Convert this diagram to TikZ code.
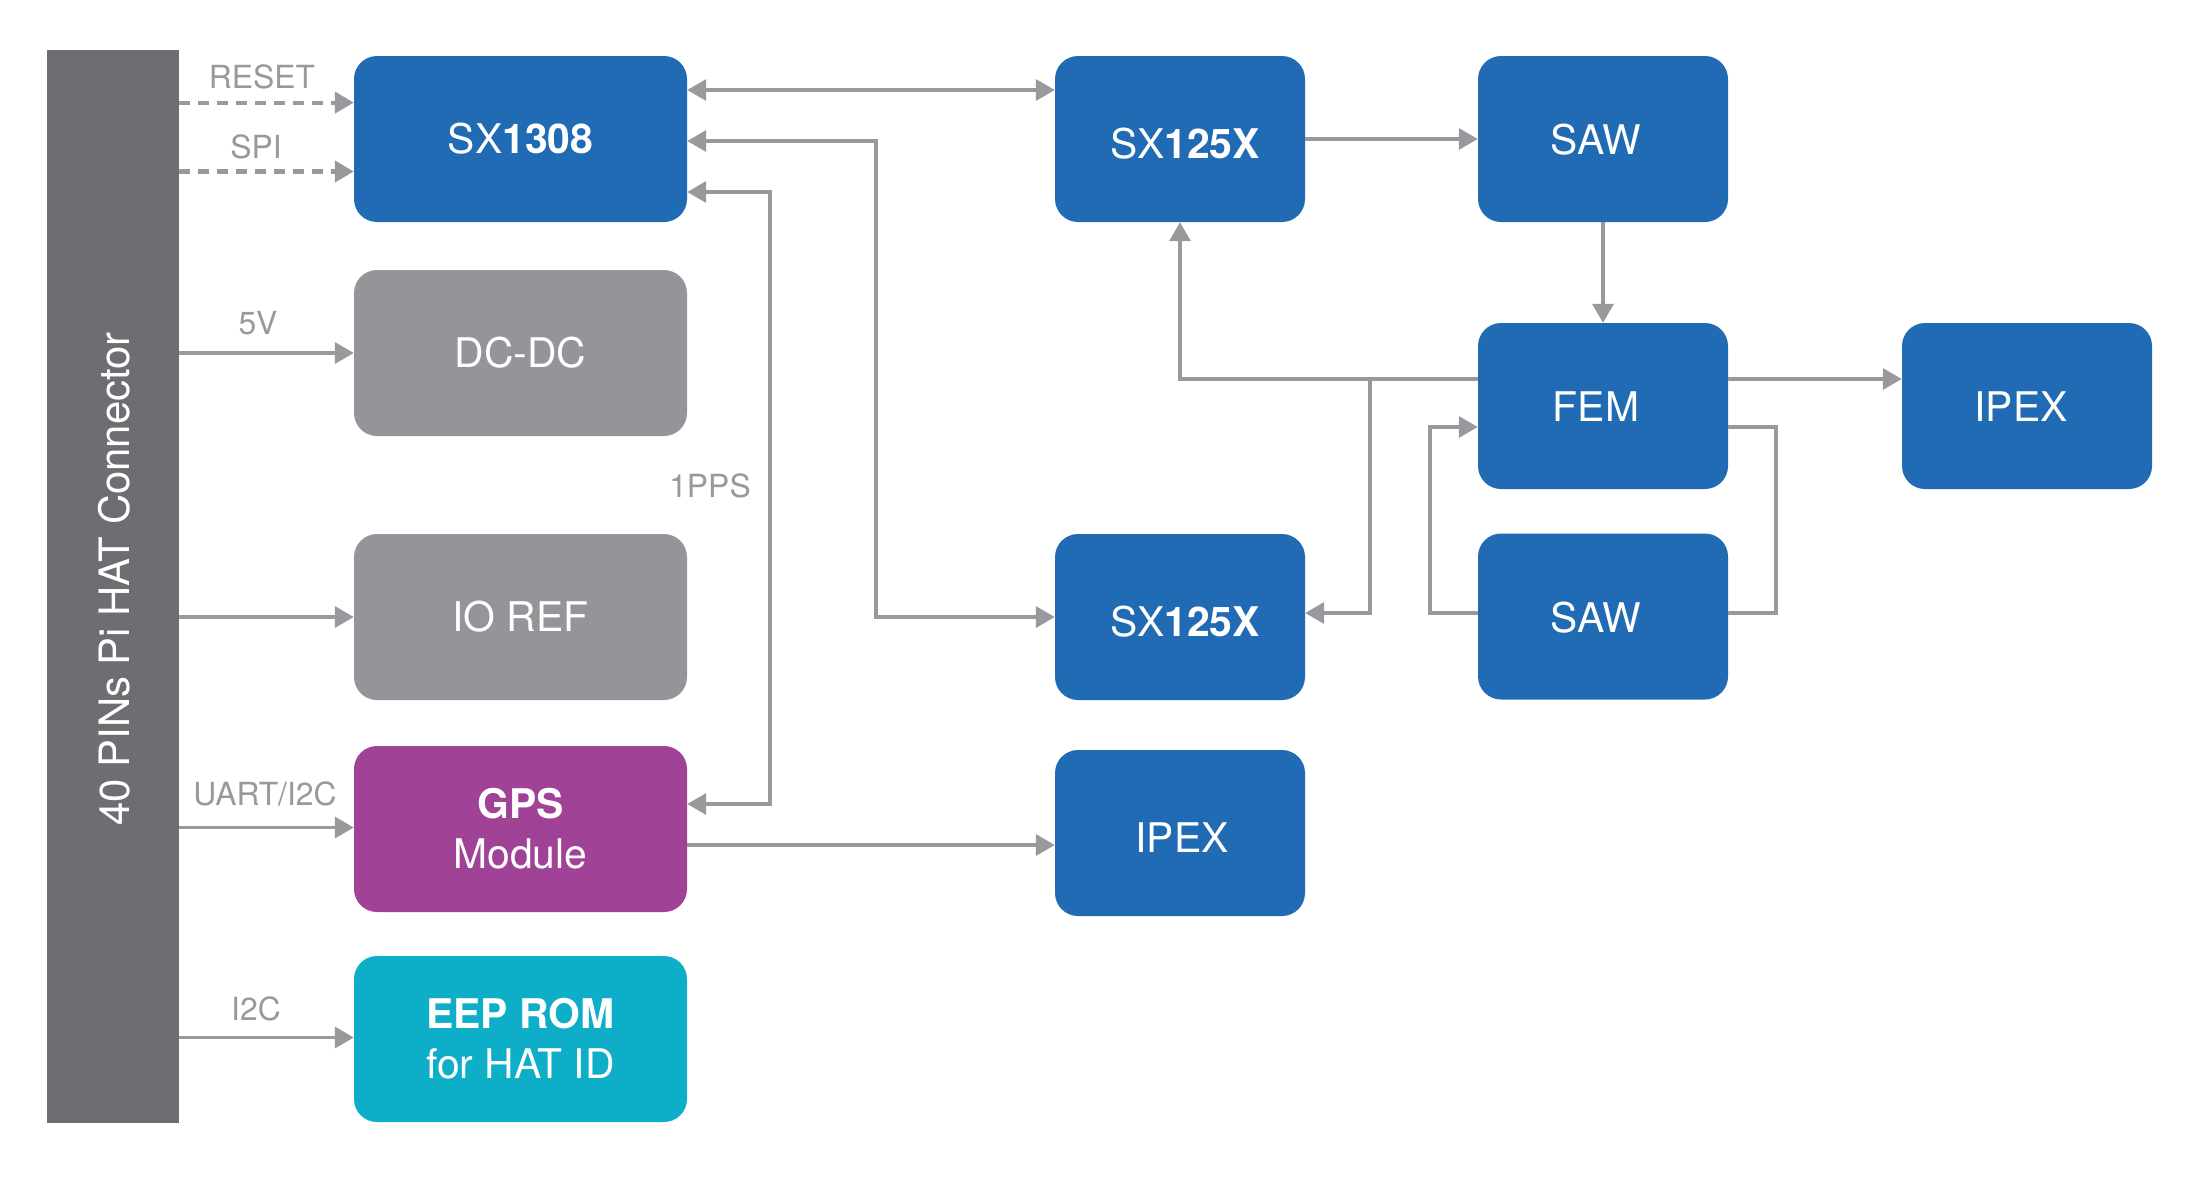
\documentclass[tikz,border=0pt]{standalone}
\usepackage{fontspec}
\setmainfont{TeX Gyre Heros}
\usetikzlibrary{arrows.meta}
\definecolor{cblue}{RGB}{33,107,180}
\definecolor{cgray}{RGB}{147,149,152}
\definecolor{cpurple}{RGB}{160,66,149}
\definecolor{ccyan}{RGB}{14,174,201}
\definecolor{cbar}{RGB}{109,110,113}
\definecolor{cline}{RGB}{152,153,156}
\newcommand{\tshift}[3]{\hspace*{#1}\raisebox{#2}[\height][\depth]{#3}}
\tikzset{
  box/.style={rectangle, rounded corners=23bp, inner sep=0pt, text=white,
    font=\fontsize{41}{50}\selectfont, align=center,
    minimum width=250bp, minimum height=166bp},
  widebox/.style={box, minimum width=333bp},
  conn/.style={draw=cline, line width=3.5bp,
    arrows={-Triangle[length=19bp,width=21bp]}},
  conn2/.style={conn, arrows={Triangle[length=19bp,width=21bp]-Triangle[length=19bp,width=21bp]}},
  plain/.style={draw=cline, line width=3.5bp},
  dashconn/.style={conn, line width=4.2bp, dash pattern=on 11bp off 8bp},
  lbl/.style={text=cline, font=\fontsize{32}{36}\selectfont, inner sep=0pt}
}
\begin{document}
\begin{tikzpicture}[x=1bp,y=-1bp]
\useasboundingbox (0,0) rectangle (2191,1187);
% connector bar
\node[rectangle, fill=cbar, minimum width=132bp, minimum height=1073bp, inner sep=0pt] (bar) at (113,586.5) {};
\node[rotate=90, text=white, font=\fontsize{42}{48}\selectfont, inner sep=0pt] (bartext) at (114.5,579) {40 PINs Pi HAT Connector};
% left column
\node[widebox, fill=cblue] (sx1308) at (520.5,139) {SX\textbf{1308}};
\node[widebox, fill=cgray] (dcdc) at (520.5,353) {DC-DC};
\node[widebox, fill=cgray] (ioref) at (520.5,617) {IO REF};
\node[widebox, fill=cpurple] (gps) at (520.5,829) {\textbf{GPS}\\Module};
\node[widebox, fill=ccyan] (eep) at (520.5,1039) {\textbf{EEP ROM}\\for HAT ID};
% middle column
\node[box, fill=cblue] (sxa) at (1180,139) {\tshift{10bp}{-5bp}{SX\textbf{125X}}};
\node[box, fill=cblue] (sxb) at (1180,617) {\tshift{10bp}{-5bp}{SX\textbf{125X}}};
\node[box, fill=cblue] (ipexb) at (1180,833) {\tshift{4bp}{-5bp}{IPEX}};
% right columns
\node[box, fill=cblue] (sawa) at (1603,139) {\tshift{-14bp}{-1bp}{SAW}};
\node[box, fill=cblue] (fem) at (1603,406) {\tshift{-14bp}{-1bp}{FEM}};
\node[box, fill=cblue] (sawb) at (1603,616.5) {\tshift{-14bp}{-1bp}{SAW}};
\node[box, fill=cblue] (ipexa) at (2027,406) {\tshift{-12bp}{-1bp}{IPEX}};
% bar connectors
\draw[dashconn] (bar.east |- 0,102.6) -- (sx1308.west |- 0,102.6);
\draw[dashconn] (bar.east |- 0,171.5) -- (sx1308.west |- 0,171.5);
\draw[conn] (bar.east |- dcdc.west) -- (dcdc.west);
\draw[conn] (bar.east |- ioref.west) -- (ioref.west);
\draw[conn] (bar.east |- 0,827.5) -- (gps.west |- 0,827.5);
\draw[conn] (bar.east |- 0,1037.5) -- (eep.west |- 0,1037.5);
\node[lbl] (lreset) at (262,77) {RESET};
\node[lbl] (lspi) at (256,147) {SPI};
\node[lbl] (l5v) at (258,323) {5V};
\node[lbl] (luart) at (265,794) {UART/I2C};
\node[lbl] (li2c) at (256,1009) {I2C};
% SX1308 links
\draw[conn2] (sx1308.east |- 0,90) -- (sxa.west |- 0,90);
\coordinate (c1) at (876,141);
\coordinate (c2) at (876,617);
\draw[conn2] (sx1308.east |- c1) -- (c1) -- (c2) -- (sxb.west |- c2);
\coordinate (p1) at (770,804);
\coordinate (p2) at (770,192);
\draw[conn2] (gps.east |- p1) -- (p1) -- (p2) -- (sx1308.east |- p2);
\node[lbl] (l1pps) at (710,486) {1PPS};
\draw[conn] (gps.east |- 0,845) -- (ipexb.west |- 0,845);
% RF chain
\draw[conn] (sxa.east) -- (sawa.west);
\draw[conn] (sawa.south) -- (fem.north);
\draw[conn] (fem.east |- 0,379) -- (ipexa.west |- 0,379);
\coordinate (j1) at (1370,379);
\draw[conn] (fem.west |- j1) -| (sxa.south);
\draw[conn] (j1) |- (sxb.east |- 0,613);
% SAW loop
\coordinate (lA) at (1430,613);
\coordinate (lB) at (1776,613);
\draw[conn] (sawb.west |- lA) -- (lA) |- (fem.west |- 0,427);
\draw[plain] (fem.east |- 0,427) -| (lB) -- (sawb.east |- lB);
\end{tikzpicture}
\end{document}
